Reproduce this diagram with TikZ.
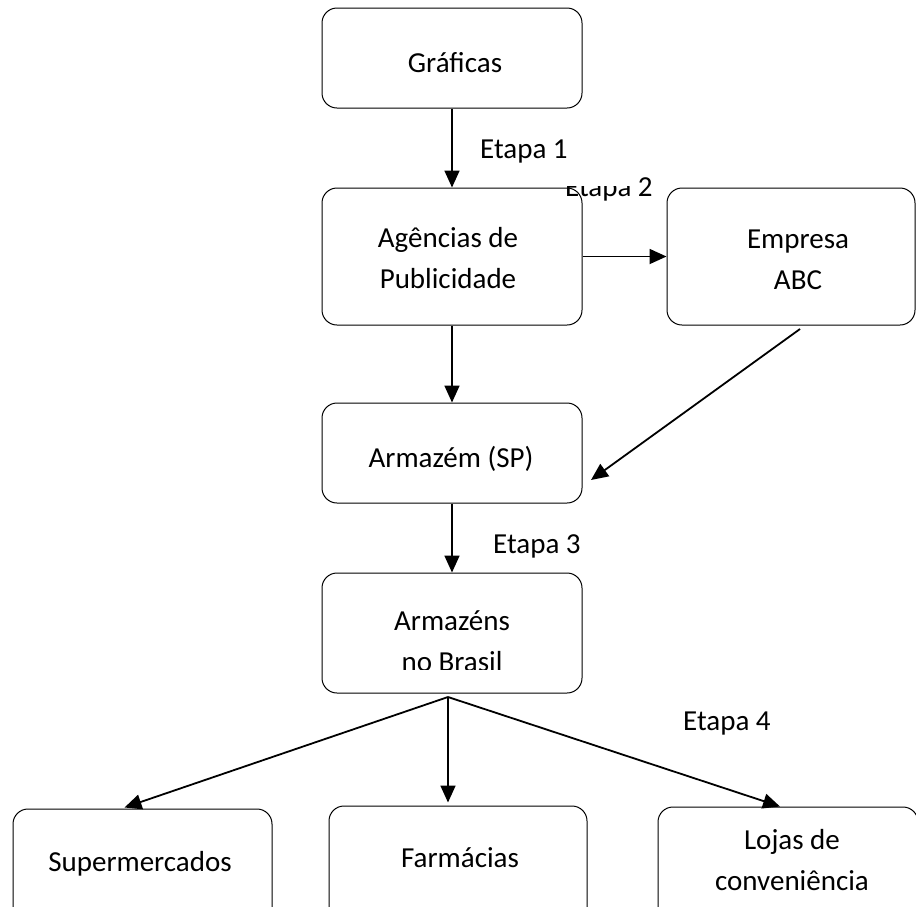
\documentclass[tikz,border=0pt]{standalone}
\usepackage{fontspec}
\setmainfont{Carlito}
\usetikzlibrary{arrows.meta,calc}
\begin{document}
\begin{tikzpicture}[x=1pt,y=-1pt,
  box/.style={draw=black, line width=1pt, rounded corners=15pt, fill=white, inner sep=0pt},
  lbl/.style={font=\fontsize{29}{41}\selectfont, inner sep=0pt, anchor=base, align=center},
  arr/.style={line width=1.8pt, -{Triangle[length=17pt,width=15pt]}},
]
\useasboundingbox (0,0) rectangle (916,906);
\clip (0,0) rectangle (916,906);
\fill[white] (0,0) rectangle (916,906);
% boxes
\node[box, minimum width=260pt, minimum height=100pt] (grafica) at (452,58) {};
\node[box, minimum width=260pt, minimum height=137pt] (agencias) at (452,256.5) {};
\node[box, minimum width=248pt, minimum height=137pt] (empresa) at (791,256.5) {};
\node[box, minimum width=260pt, minimum height=100pt] (armazem) at (452,453) {};
\node[box, minimum width=260pt, minimum height=120pt] (brasil) at (452,633) {};
\node[box, minimum width=259pt, minimum height=120pt] (super) at (142.5,869) {};
\node[box, minimum width=258pt, minimum height=120pt] (farm) at (458,866) {};
\node[box, minimum width=260pt, minimum height=120pt] (lojas) at (788,867) {};
% texts (base = last line baseline)
\node[lbl] (tgraf) at (455,72) {Gráficas};
\node[lbl] (tagen) at (448,288) {Agências de\\Publicidade};
\node[lbl] (templ) at (798,289) {Empresa\\ABC};
\node[lbl] (tarm) at (451,467) {Armazém (SP)};
\begin{scope}
  \clip (322,573) rectangle (582,669);
  \node[lbl] (tbras) at (452,671) {Armazéns\\no Brasil};
\end{scope}
\node[lbl] (tsup) at (140,871) {Supermercados};
\node[lbl] (tfarm) at (460,867) {Farmácias};
\node[lbl] (tloj) at (792,890) {Lojas de\\conveniência};
% step labels
\node[lbl, anchor=base west] (et1) at (480,158) {Etapa 1};
\begin{scope}
  \clip (550,186) rectangle (634,215) (634,160) rectangle (680,215);
  \node[lbl, anchor=base west] (et2) at (565,196) {Etapa 2};
\end{scope}
\node[lbl, anchor=base west] (et3) at (493,553) {Etapa 3};
\node[lbl, anchor=base west] (et4) at (683,730) {Etapa 4};
% connectors
\coordinate (es) at (800,329);
\coordinate (ae) at (591,480);
\coordinate (fan) at (448,697);
\draw[arr] (grafica.south) -- (agencias.north);
\draw[arr] (agencias.east) -- (empresa.west);
\draw[arr] (agencias.south) -- (armazem.north);
\draw[arr] (es) -- (ae);
\draw[arr] (armazem.south) -- (brasil.north);
\draw[arr] (fan) -- ($(super.north)+(-18,-1)$);
\draw[arr] (fan) -- ($(farm.north)+(-10,-3)$);
\draw[arr] (fan) -- ($(lojas.north)+(-8,0)$);
\end{tikzpicture}
\end{document}
